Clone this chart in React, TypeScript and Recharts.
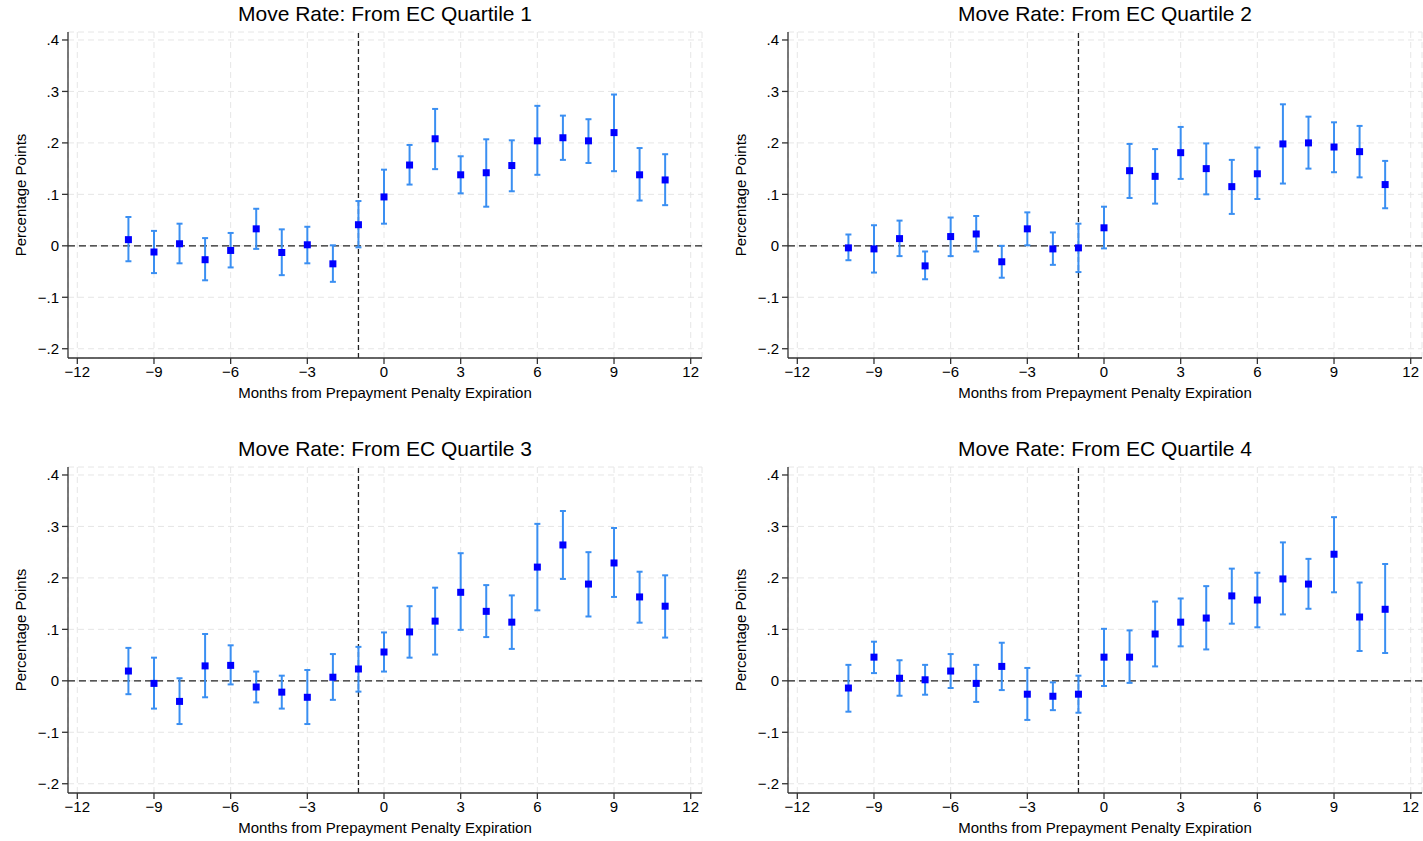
import React from "react";
import {
  ComposedChart,
  Scatter,
  XAxis,
  YAxis,
  CartesianGrid,
  ReferenceLine,
  ErrorBar,
} from "recharts";

const months = [-10, -9, -8, -7, -6, -5, -4, -3, -2, -1, 0, 1, 2, 3, 4, 5, 6, 7, 8, 9, 10, 11];
const xTicks = [-12, -9, -6, -3, 0, 3, 6, 9, 12];
const yTicks = [-0.2, -0.1, 0, 0.1, 0.2, 0.3, 0.4];
const eventMonth = -1;

const titles = [
  "Move Rate: From EC Quartile 1",
  "Move Rate: From EC Quartile 2",
  "Move Rate: From EC Quartile 3",
  "Move Rate: From EC Quartile 4",
];
const xTitle = "Months from Prepayment Penalty Expiration";
const yTitle = "Percentage Points";

const q1Coef = [0.012, -0.012, 0.004, -0.027, -0.009, 0.033, -0.013, 0.002, -0.035, 0.041, 0.095, 0.157, 0.208, 0.138, 0.142, 0.156, 0.204, 0.210, 0.204, 0.220, 0.138, 0.128];
const q1Lo = [-0.030, -0.053, -0.034, -0.067, -0.042, -0.006, -0.057, -0.034, -0.070, -0.003, 0.043, 0.119, 0.149, 0.102, 0.076, 0.106, 0.138, 0.167, 0.161, 0.145, 0.088, 0.079];
const q1Hi = [0.056, 0.029, 0.043, 0.015, 0.025, 0.072, 0.032, 0.037, 0.001, 0.087, 0.148, 0.196, 0.266, 0.174, 0.207, 0.205, 0.272, 0.253, 0.246, 0.294, 0.190, 0.178];

const q2Coef = [-0.004, -0.006, 0.014, -0.039, 0.018, 0.023, -0.031, 0.033, -0.006, -0.004, 0.035, 0.146, 0.135, 0.181, 0.150, 0.115, 0.140, 0.198, 0.200, 0.192, 0.183, 0.119];
const q2Lo = [-0.028, -0.052, -0.020, -0.065, -0.020, -0.011, -0.062, 0.001, -0.037, -0.051, -0.005, 0.093, 0.082, 0.130, 0.100, 0.062, 0.091, 0.121, 0.150, 0.143, 0.133, 0.073];
const q2Hi = [0.022, 0.040, 0.049, -0.011, 0.055, 0.058, 0.000, 0.065, 0.026, 0.043, 0.076, 0.198, 0.188, 0.231, 0.199, 0.167, 0.191, 0.275, 0.251, 0.240, 0.233, 0.165];

const q3Coef = [0.019, -0.005, -0.040, 0.029, 0.030, -0.012, -0.022, -0.032, 0.007, 0.023, 0.056, 0.095, 0.116, 0.172, 0.135, 0.114, 0.221, 0.264, 0.188, 0.229, 0.163, 0.145];
const q3Lo = [-0.026, -0.054, -0.084, -0.032, -0.007, -0.042, -0.054, -0.084, -0.037, -0.021, 0.018, 0.045, 0.051, 0.099, 0.085, 0.062, 0.137, 0.198, 0.125, 0.163, 0.113, 0.084];
const q3Hi = [0.064, 0.045, 0.005, 0.091, 0.069, 0.018, 0.010, 0.021, 0.052, 0.066, 0.094, 0.145, 0.181, 0.248, 0.186, 0.166, 0.305, 0.330, 0.250, 0.297, 0.212, 0.205];

const q4Coef = [-0.014, 0.046, 0.005, 0.002, 0.019, -0.005, 0.028, -0.026, -0.030, -0.026, 0.046, 0.046, 0.091, 0.114, 0.122, 0.165, 0.157, 0.198, 0.188, 0.246, 0.124, 0.139];
const q4Lo = [-0.060, 0.015, -0.029, -0.027, -0.014, -0.041, -0.018, -0.076, -0.057, -0.062, -0.010, -0.004, 0.028, 0.067, 0.061, 0.111, 0.104, 0.129, 0.140, 0.172, 0.058, 0.054];
const q4Hi = [0.031, 0.076, 0.040, 0.031, 0.052, 0.031, 0.074, 0.025, -0.003, 0.010, 0.101, 0.098, 0.154, 0.160, 0.184, 0.218, 0.210, 0.269, 0.237, 0.318, 0.191, 0.227];

const FONT = "'Liberation Sans', Arial, Helvetica, sans-serif";

const fmtX = (v: number) => (v < 0 ? "\u2212" + Math.abs(v) : String(v));
const fmtY = (v: number) => {
  if (Math.abs(v) < 1e-9) return "0";
  const s = Math.abs(v).toFixed(1).replace(/^0/, "");
  return (v < 0 ? "\u2212" : "") + s;
};

const Square = (props: any) => {
  const { cx, cy } = props;
  if (cx == null || cy == null) return null;
  return <rect x={cx - 3.5} y={cy - 3.5} width={7} height={7} fill="#0000ff" />;
};

type PanelProps = {
  title: string;
  coef: number[];
  lo: number[];
  hi: number[];
  left: number;
  top: number;
};

const Panel = ({ title, coef, lo, hi, left, top }: PanelProps) => {
  const data = months.map((m, i) => ({
    month: m,
    coef: coef[i],
    err: [coef[i] - lo[i], hi[i] - coef[i]],
  }));
  return (
    <div style={{ position: "absolute", left, top, width: 712, height: 420 }}>
      <div
        style={{
          position: "absolute",
          left: 68,
          width: 634,
          top: 2,
          textAlign: "center",
          fontFamily: FONT,
          fontSize: 21,
          color: "#000",
          whiteSpace: "nowrap",
        }}
      >
        {title}
      </div>
      <ComposedChart
        width={710}
        height={410}
        data={data}
        margin={{ top: 32, right: 8, bottom: 7, left: 18 }}
        style={{ position: "absolute", left: 0, top: 0 }}
      >
        <CartesianGrid stroke="#e6e6e6" strokeDasharray="6 4" strokeWidth={1} />
        <XAxis
          dataKey="month"
          type="number"
          domain={[-12.364, 12.442]}
          ticks={xTicks}
          tickFormatter={fmtX}
          allowDataOverflow
          height={45}
          tickSize={6}
          tickMargin={2}
          stroke="#333"
          strokeWidth={1.3}
          tick={{ fill: "#000", fontSize: 15, fontFamily: FONT }}
          tickLine={{ stroke: "#333", strokeWidth: 1.3 }}
          label={{
            content: (p: any) => {
              const vb = p.viewBox || {};
              return (
                <text
                  x={vb.x + vb.width / 2}
                  y={vb.y + 40}
                  textAnchor="middle"
                  fontSize={15}
                  fontFamily={FONT}
                  fill="#000"
                >
                  {xTitle}
                </text>
              );
            },
          }}
        />
        <YAxis
          type="number"
          domain={[-0.218, 0.4155]}
          ticks={yTicks}
          tickFormatter={fmtY}
          allowDataOverflow
          width={50}
          tickSize={6}
          tickMargin={3}
          stroke="#333"
          strokeWidth={1.3}
          tick={{ fill: "#000", fontSize: 15, fontFamily: FONT }}
          tickLine={{ stroke: "#333", strokeWidth: 1.3 }}
          label={{
            content: (p: any) => {
              const vb = p.viewBox || {};
              const cx = 25.5;
              const cy = vb.y + vb.height / 2;
              return (
                <text
                  x={cx}
                  y={cy}
                  transform={`rotate(-90, ${cx}, ${cy})`}
                  textAnchor="middle"
                  fontSize={15}
                  fontFamily={FONT}
                  fill="#000"
                >
                  {yTitle}
                </text>
              );
            },
          }}
        />
        <ReferenceLine y={0} stroke="#222" strokeWidth={1.3} strokeDasharray="7 4" />
        <ReferenceLine x={eventMonth} stroke="#222" strokeWidth={1.3} strokeDasharray="5 3" />
        <Scatter dataKey="coef" shape={<Square />} isAnimationActive={false}>
          <ErrorBar
            dataKey="err"
            direction="y"
            width={3}
            stroke="#3a8ff2"
            strokeWidth={2}
            isAnimationActive={false}
          />
        </Scatter>
      </ComposedChart>
    </div>
  );
};

export default function App() {
  return (
    <div style={{ position: "absolute", left: 0, top: 0, width: 1423, height: 841, background: "#fff" }}>
      <Panel title={titles[0]} coef={q1Coef} lo={q1Lo} hi={q1Hi} left={0} top={0} />
      <Panel title={titles[1]} coef={q2Coef} lo={q2Lo} hi={q2Hi} left={720} top={0} />
      <Panel title={titles[2]} coef={q3Coef} lo={q3Lo} hi={q3Hi} left={0} top={435} />
      <Panel title={titles[3]} coef={q4Coef} lo={q4Lo} hi={q4Hi} left={720} top={435} />
    </div>
  );
}
